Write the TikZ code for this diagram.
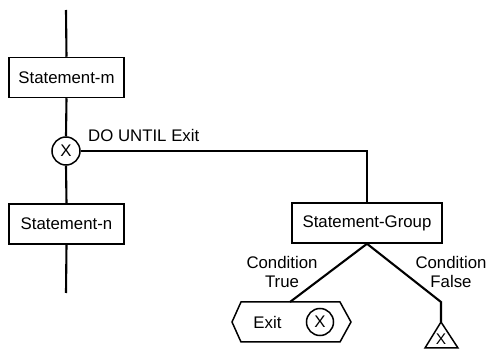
\documentclass[tikz,border=0pt]{standalone}
\usepackage{fontspec}
\setmainfont{Liberation Sans}
\begin{document}
\begin{tikzpicture}[x=1pt,y=-1pt,
  font=\fontsize{16.8}{19.5}\selectfont,
  flow/.style={line width=2.1pt},
  stmt/.style={draw, line width=1.5pt, rectangle, minimum width=115pt,
               minimum height=40pt, inner sep=0pt},
  xcircle/.style={draw, circle, line width=1.5pt, minimum size=28pt, inner sep=0pt},
  outline/.style={line width=1.5pt, line join=miter},
  lbl/.style={align=center, inner sep=0pt}
]
\useasboundingbox (0,0) rectangle (491,350);

% main sequence
\coordinate (top) at (66,10);
\node[stmt] (sm) at (66.5,77.5) {Statement-m};
\node[xcircle] (cx) at (66,151) {X};
\node[stmt] (sn) at (66.5,224) {Statement-n};
\coordinate (bot) at (66,293);

\draw[flow] (top) -- (sm.north);
\draw[flow] (sm.south) -- (cx.north);
\draw[flow] (cx.south) -- (sn.north);
\draw[flow] (sn.south) -- (bot);

% loop body
\node[anchor=base west, inner sep=0pt] (dolbl) at (88,142) {DO UNTIL Exit};
\node[stmt, minimum width=150pt] (sg) at (367,223) {Statement-Group};
\draw[flow] (cx.east) -| (sg.north);

% exit branch
\coordinate (exittop) at (290,302);
\draw[outline] (232,322) -- (241,302) -- (340,302) -- (351,322)
               -- (340,342) -- (241,342) -- cycle;
\node[inner sep=0pt] (exitlbl) at (267.5,322) {Exit};
\node[xcircle, minimum size=27pt] (exitx) at (320,322) {X};
\draw[flow] (sg.south) -- (exittop);
\node[lbl] (truelbl) at (282,272) {Condition\\True};

% continue branch
\coordinate (falsebend) at (441,302);
\coordinate (tri) at (441,322);
\draw[outline] (tri) -- (458,348) -- (425,348) -- cycle;
\node[inner sep=0pt, font=\fontsize{15.5}{17}\selectfont] (trix) at (441,339) {X};
\draw[flow] (sg.south) -- (falsebend) -- (tri);
\node[lbl] (falselbl) at (451,272) {Condition\\False};
\end{tikzpicture}
\end{document}
